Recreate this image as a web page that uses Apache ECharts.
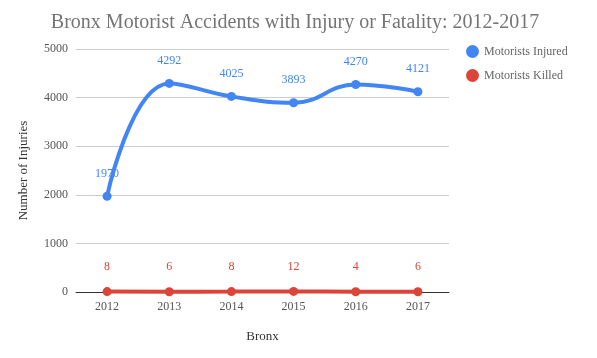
<!DOCTYPE html>
<html><head><meta charset="utf-8">
<script src="https://cdn.jsdelivr.net/npm/echarts@6/dist/echarts.min.js"></script>
<style>html,body{margin:0;padding:0;background:#fff}#c{width:597px;height:358px}</style>
</head><body><div id="c"></div>
<script>
const years = ['2012','2013','2014','2015','2016','2017'];
const injured = [1970, 4292, 4025, 3893, 4270, 4121];
const killed = [8, 6, 8, 12, 4, 6];
const yTicks = [0, 1000, 2000, 3000, 4000, 5000];

const font = '"Liberation Serif", "Times New Roman", serif';
const chart = echarts.init(document.getElementById('c'));
chart.setOption({
  animation: false,
  textStyle: {fontFamily: font},
  title: {
    text: 'Bronx Motorist Accidents with Injury or Fatality: 2012-2017',
    left: 290, top: 8, textAlign: 'center',
    textStyle: {fontFamily: font, fontSize: 20, fontWeight: 'normal', color: '#757575'}
  },
  legend: {
    orient: 'vertical', left: 461, top: 40, itemGap: 11,
    icon: 'circle', itemWidth: 13, itemHeight: 13,
    textStyle: {fontFamily: font, fontSize: 12, color: '#666'},
    data: ['Motorists Injured', 'Motorists Killed']
  },
  grid: {left: 76, right: 148, top: 49, bottom: 66},
  xAxis: {
    type: 'category', data: years, boundaryGap: true,
    name: 'Bronx', nameLocation: 'middle', nameGap: 38,
    nameTextStyle: {fontFamily: font, fontSize: 13, color: '#333'},
    axisLine: {lineStyle: {color: '#333', width: 1}},
    axisTick: {show: false},
    axisLabel: {fontFamily: font, fontSize: 12, color: '#555', margin: 9}
  },
  yAxis: {
    type: 'value', min: yTicks[0], max: yTicks[yTicks.length-1], interval: 1000,
    name: 'Number of Injuries', nameLocation: 'middle', nameGap: 46,
    nameTextStyle: {fontFamily: font, fontSize: 13, color: '#333'},
    axisLine: {show: false}, axisTick: {show: false},
    axisLabel: {fontFamily: font, fontSize: 12, color: '#555', margin: 8, formatter: v => String(v)},
    splitLine: {lineStyle: {color: '#ccc'}}
  },
  series: [
    {
      name: 'Motorists Injured', type: 'line', data: injured, smooth: 0.45,
      symbol: 'circle', symbolSize: 9,
      itemStyle: {color: '#4285F4'}, lineStyle: {width: 4, color: '#4285F4'},
      label: {show: true, position: 'top', distance: 12, color: '#4285F4', fontFamily: font, fontSize: 12}
    },
    {
      name: 'Motorists Killed', type: 'line', data: killed, smooth: true,
      symbol: 'circle', symbolSize: 9,
      itemStyle: {color: '#DB4437'}, lineStyle: {width: 4, color: '#DB4437'},
      label: {show: true, position: 'top', distance: 14, color: '#DB4437', fontFamily: font, fontSize: 12}
    }
  ]
});
</script></body></html>
